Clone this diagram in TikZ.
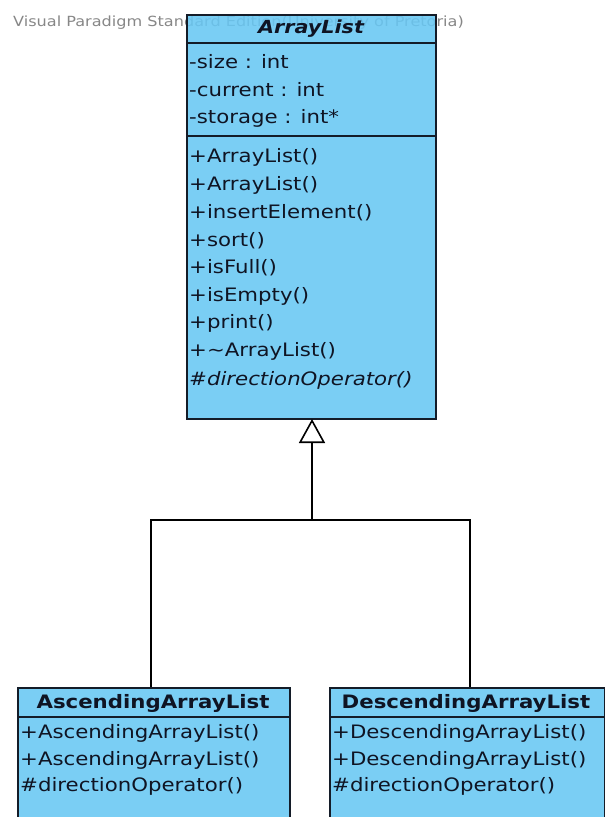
\documentclass[tikz,border=0pt]{standalone}
\usepackage{fontspec}
\setmainfont{DejaVu Sans}[FakeStretch=1.15]
\usetikzlibrary{arrows.meta}
\definecolor{umlfill}{RGB}{122,206,244}
\definecolor{umlfillx}{RGB}{104,199,243}
\definecolor{umlline}{RGB}{20,28,40}
\definecolor{umltext}{RGB}{15,20,35}
\definecolor{wmgray}{RGB}{135,135,135}
\tikzset{
  classbox/.style={draw=umlline, fill=umlfill, line width=2pt},
  sepline/.style={draw=umlline, line width=2pt},
  member/.style={anchor=west, inner sep=0pt, text=umltext, font=\fontsize{18.5}{20}\selectfont},
  ctitle/.style={inner sep=0pt, text=umltext, font=\fontsize{18.5}{20}\selectfont\bfseries},
  conn/.style={draw=black, line width=1.6pt},
  gen/.style={-{Triangle[open,length=24pt,width=26pt,line width=1.6pt]}}
}
\begin{document}
\begin{tikzpicture}[x=1pt,y=-1pt]
\useasboundingbox (0,0) rectangle (605,817);
\clip (0,0) rectangle (605,817);
% watermark
\node[anchor=west, text=wmgray, inner sep=0pt, font=\fontsize{14}{16}\selectfont] (wm) at (13,23) {Visual Paradigm Standard Edition(University of Pretoria)};
% ArrayList
\node[classbox, fill=umlfillx, fill opacity=0.88, anchor=north west, minimum width=249pt, minimum height=404pt, inner sep=0pt] (al) at (186,14) {};
\draw[sepline] (186,43) -- (435,43);
\draw[sepline] (186,136) -- (435,136);
\node[ctitle, font=\fontsize{18}{20}\selectfont\bfseries\itshape] (alt) at (311,29) {ArrayList};
\node[member] (a1) at (189,62) {-size : int};
\node[member] (a2) at (189,90) {-current : int};
\node[member] (a3) at (189,118) {-storage : int*};
\node[member] (m1) at (189,157) {+ArrayList()};
\node[member] (m2) at (189,185) {+ArrayList()};
\node[member] (m3) at (189,213) {+insertElement()};
\node[member] (m4) at (189,241) {+sort()};
\node[member] (m5) at (189,268) {+isFull()};
\node[member] (m6) at (189,296) {+isEmpty()};
\node[member] (m7) at (189,323) {+print()};
\node[member] (m8) at (189,351) {+\textasciitilde ArrayList()};
\node[member, font=\fontsize{18.5}{20}\selectfont\itshape] (m9) at (189,380) {\#directionOperator()};
% Ascending
\node[classbox, anchor=north west, minimum width=272pt, minimum height=160pt, inner sep=0pt] (asc) at (17,687) {};
\draw[sepline] (17,717) -- (289,717);
\node[ctitle] (asct) at (153,703) {AscendingArrayList};
\node[member] (s1) at (20,733) {+AscendingArrayList()};
\node[member] (s2) at (20,760) {+AscendingArrayList()};
\node[member] (s3) at (20,786) {\#directionOperator()};
% Descending
\node[classbox, anchor=north west, minimum width=275pt, minimum height=160pt, inner sep=0pt] (desc) at (329,687) {};
\draw[sepline] (329,717) -- (604,717);
\node[ctitle] (desct) at (466,703) {DescendingArrayList};
\node[member] (d1) at (332,733) {+DescendingArrayList()};
\node[member] (d2) at (332,760) {+DescendingArrayList()};
\node[member] (d3) at (332,786) {\#directionOperator()};
% generalization
\coordinate (j) at (312,520);
\coordinate (ja) at (151,520);
\coordinate (jd) at (470,520);
\coordinate (tip) at (312,419);
\draw[conn] (ja |- asc.north) -- (ja) -- (jd) -- (jd |- desc.north);
\draw[conn, gen] (j) -- (tip);
\end{tikzpicture}
\end{document}
